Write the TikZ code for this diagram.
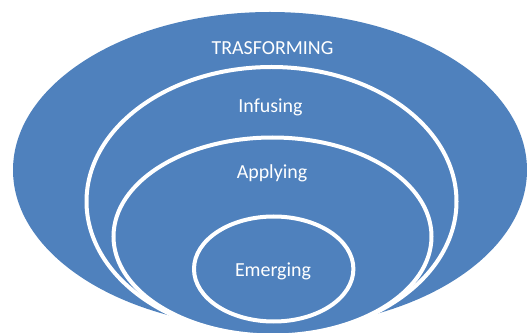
\documentclass[tikz,border=0pt]{standalone}
\usepackage{fontspec}
\setmainfont{Carlito}
\usepackage{tikz}
\definecolor{azulcapa}{HTML}{4F81BD}

\begin{document}
\begin{tikzpicture}[
            x=0.03cm, y=0.03cm,
            font=\fontsize{17}{20}\selectfont,
            capa/.style={fill=azulcapa, draw=white, line width=0.12cm},
            etiqueta/.style={text=white, anchor=base, inner sep=0pt}
        ]
            % Marco
            \useasboundingbox (0,0) rectangle (527,333);
            \clip (0,0) rectangle (527,333);

            % Elipse exterior
            \fill[azulcapa] (270,163) ellipse [x radius=257, y radius=158];

            % Elipses interiores
            \draw[capa] (271.5,131.5) ellipse [x radius=185, y radius=134.5];
            \draw[capa] (272.5,96.5) ellipse [x radius=159, y radius=99];
            \draw[capa] (273.7,64) ellipse [x radius=79.7, y radius=52.5];

            % Etiquetas
            \node[etiqueta] (trasforming) at (272.5,278.5) {TRASFORMING};
            \node[etiqueta] (infusing) at (270.5,220) {Infusing};
            \node[etiqueta] (applying) at (272,154) {Applying};
            \node[etiqueta] (emerging) at (273,56) {Emerging};

        \end{tikzpicture}
\end{document}
